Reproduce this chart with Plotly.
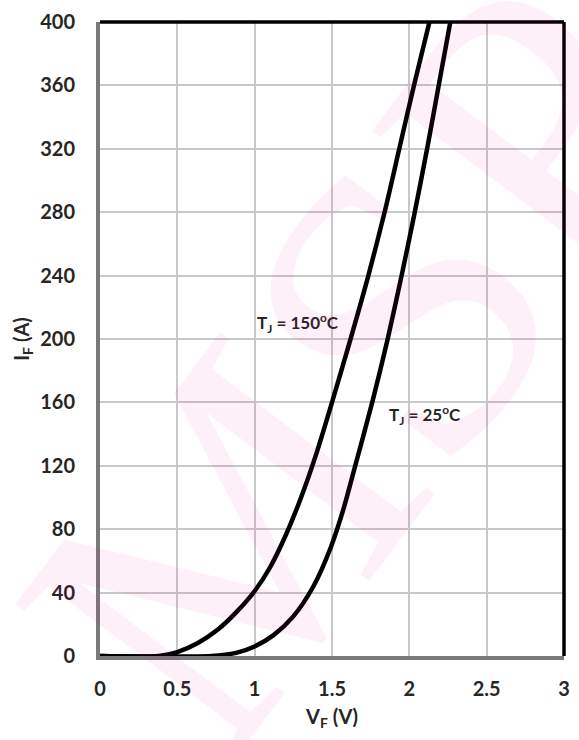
import plotly.graph_objects as go

# Forward characteristics
vf_150 = [0.0, 0.38, 0.5, 0.63, 0.76, 0.88, 1.0, 1.1, 1.2, 1.3, 1.4, 1.5,
          1.62, 1.735, 1.84, 1.935, 2.03, 2.13]
if_150 = [0, 0, 2.5, 8, 16.5, 27.5, 41, 56, 76, 100, 128, 160,
          200, 240, 280, 320, 360, 400]

vf_25 = [0.0, 0.72, 0.88, 1.0, 1.12, 1.25, 1.38, 1.49, 1.575, 1.65, 1.76,
         1.86, 1.95, 2.035, 2.115, 2.19, 2.265]
if_25 = [0, 0, 2, 6, 13, 25, 44, 68, 93, 120, 160,
         200, 240, 280, 320, 360, 400]

x_ticks = [0, 0.5, 1, 1.5, 2, 2.5, 3]
x_tick_labels = ["0", "0.5", "1", "1.5", "2", "2.5", "3"]
y_ticks = [0, 40, 80, 120, 160, 200, 240, 280, 320, 360, 400]

FONT = "Lato"
TXT = "#262626"

fig = go.Figure()
for xs, ys in [(vf_150, if_150), (vf_25, if_25)]:
    fig.add_trace(go.Scatter(x=xs, y=ys, mode="lines",
                             line=dict(color="black", width=4.5, shape="spline", smoothing=0.8),
                             showlegend=False, hoverinfo="skip"))

fig.update_layout(
    width=579, height=740,
    margin=dict(l=100, r=9, t=18, b=84),
    paper_bgcolor="white", plot_bgcolor="white",
    font=dict(family=FONT, color=TXT, size=20),
    xaxis=dict(range=[0, 3], tickvals=x_ticks, ticktext=x_tick_labels,
               showgrid=True, gridcolor="#c8c8c8", gridwidth=1.5,
               zeroline=False, showline=True, linecolor="#7a7a7a", linewidth=4,
               ticks="", ticklabelstandoff=12,
               tickfont=dict(family=FONT, size=20, color=TXT, weight="bold"),
               title=dict(text="V<sub>F</sub> (V)", standoff=12,
                          font=dict(family=FONT, size=20, color=TXT, weight="bold"))),
    yaxis=dict(range=[0, 400], tickvals=y_ticks,
               showgrid=True, gridcolor="#c8c8c8", gridwidth=1.5,
               zeroline=False, showline=True, linecolor="#7a7a7a", linewidth=4,
               ticks="", ticklabelstandoff=17,
               tickfont=dict(family=FONT, size=20, color=TXT, weight="bold"),
               title=dict(text="I<sub>F</sub> (A)", standoff=6,
                          font=dict(family=FONT, size=20, color=TXT, weight="bold"))),
)

# top and right border in black
fig.add_shape(type="line", xref="paper", yref="paper", x0=0, x1=1, y0=1, y1=1,
              line=dict(color="black", width=3.5))
fig.add_shape(type="line", xref="paper", yref="paper", x0=1, x1=1, y0=0, y1=1,
              line=dict(color="black", width=3.5))

ann_font = dict(family=FONT, size=17, color=TXT, weight="bold")
fig.add_annotation(x=1.28, y=210, text="T<sub>J</sub> = 150<sup>o</sup>C", showarrow=False, font=ann_font)
fig.add_annotation(x=2.1, y=152, text="T<sub>J</sub> = 25<sup>o</sup>C", showarrow=False, font=ann_font)

# watermark
fig.add_annotation(xref="paper", yref="paper", x=0.56, y=0.46, text="MSP", showarrow=False,
                   textangle=-53,
                   font=dict(family="Liberation Serif", size=410, color="rgba(240,0,160,0.06)"))

fig.write_html("out.html")
